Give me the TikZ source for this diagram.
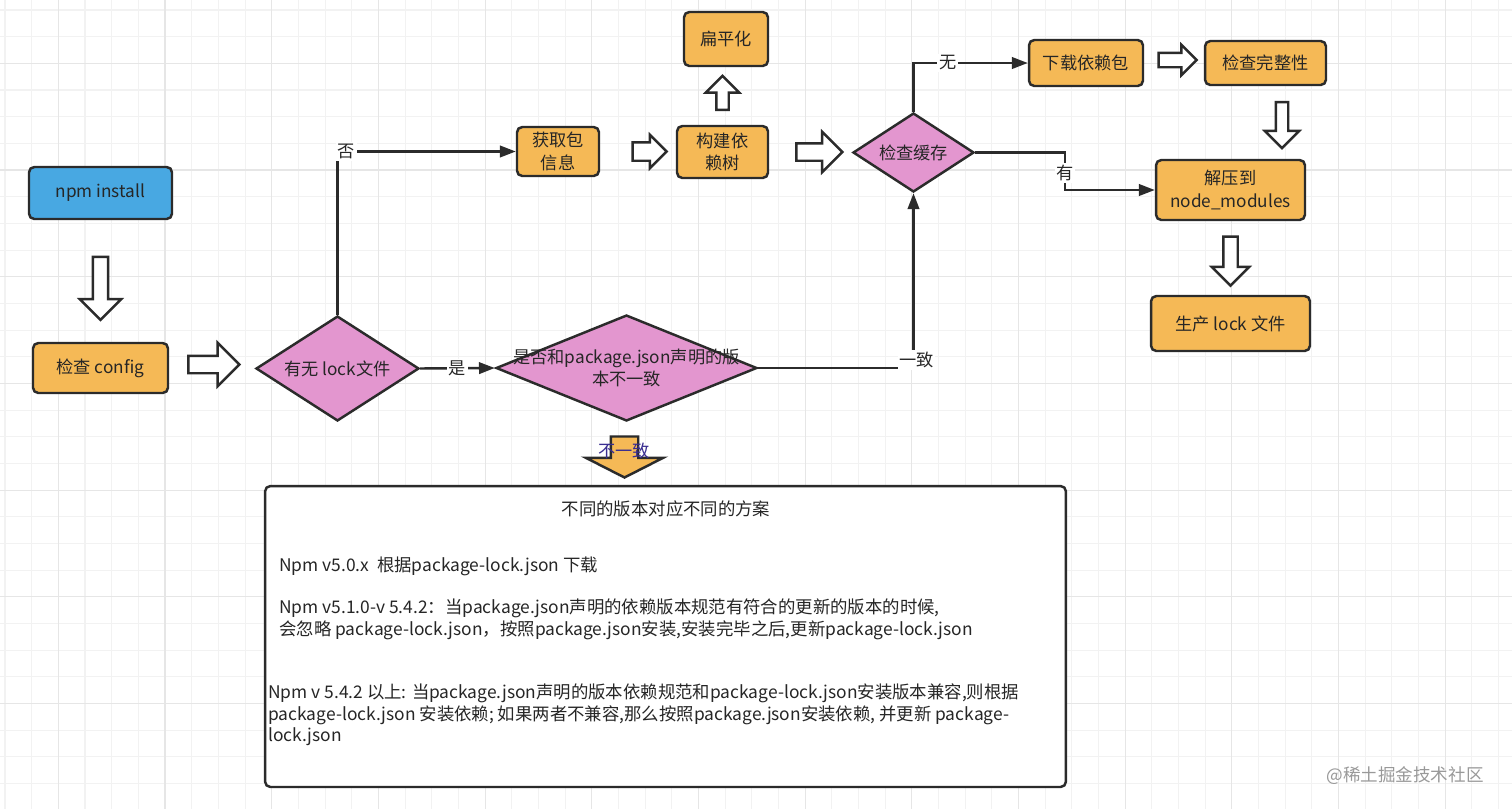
\documentclass[tikz,border=0pt]{standalone}
\usepackage{fontspec}
\setmainfont{Noto Sans CJK SC}
\usepackage{xcolor}
\usetikzlibrary{shapes, shapes.geometric, shapes.arrows, arrows.meta, positioning, calc}

\definecolor{boxorange}{HTML}{F5B956}
\definecolor{boxblue}{HTML}{48A8E2}
\definecolor{boxpink}{HTML}{E396CF}
\definecolor{edgec}{HTML}{2B2B2B}
\definecolor{gridminor}{HTML}{F2F2F2}
\definecolor{gridmajor}{HTML}{E6E6E6}
\definecolor{nolabelc}{HTML}{3A2E91}
\newcommand{\boxfont}{\fontsize{9.8}{13}\selectfont}
\newcommand{\planfont}{\fontsize{9.9}{12.2}\selectfont}

\tikzset{
  stepbox/.style={draw=edgec, line width=1.4pt, rounded corners=3pt, fill=boxorange,
    text=black!85, align=center, inner sep=0pt, font=\boxfont},
  decide/.style={diamond, draw=edgec, line width=1.4pt, fill=boxpink, inner sep=0pt,
    aspect=1.55, text=black!85, font=\boxfont},
  blockarrow/.style={single arrow, draw=edgec, line width=1.4pt, fill=white, inner xsep=0pt,
    minimum width=0pt, single arrow tip angle=90},
  flow/.style={draw=edgec, line width=1.4pt, -{Triangle[length=9pt, width=6.5pt]}},
  tag/.style={fill=white, inner sep=1pt, text=black!85, font=\boxfont},
  plaintext/.style={inner sep=0pt, text=black!85, align=left, font=\planfont},
  gridline/.style={gridminor, line width=0.6pt}
}

\begin{document}
\begin{tikzpicture}[x=0.02cm, y=-0.02cm]
  \useasboundingbox (0,0) rectangle (1512,809);
  \fill[white] (0,0) rectangle (1512,809);
  \foreach \i in {0,...,56} \draw[gridline] ({5+26.67*\i},0) -- ({5+26.67*\i},809);
  \foreach \i in {0,...,30} \draw[gridline] (0,{10+26.67*\i}) -- (1512,{10+26.67*\i});
  \foreach \i in {2,6,...,54} \draw[gridline, gridmajor] ({5+26.67*\i},0) -- ({5+26.67*\i},809);
  \foreach \i in {2,6,...,30} \draw[gridline, gridmajor] (0,{10+26.67*\i}) -- (1512,{10+26.67*\i});

  \node[stepbox, fill=boxblue, minimum width=2.86cm, minimum height=1.04cm] (npm) at (100.5,193) {npm install};
  \node[blockarrow, rotate=-90, minimum height=1.26cm, inner ysep=0.13cm, single arrow head extend=0.26cm] (a1) at (100.5,284.5) {};
  \node[stepbox, minimum width=2.7cm, minimum height=1cm] (cfg) at (100.5,368) {检查 config};
  \node[blockarrow, minimum height=1.02cm, inner ysep=0.15cm, single arrow head extend=0.26cm] (a2) at (209.5,364.5) {};
  \node[decide, minimum width=3.26cm, minimum height=2.1cm] (lock) at (337.5,368.5) {有无 lock文件};
  \node[decide, aspect=2.46, minimum width=5.22cm, minimum height=2.12cm,
    label={[align=center, text=black!85, font=\boxfont]center:是否和package.json声明的版\\本不一致}] (ver) at (626.5,368) {};
  \node[blockarrow, fill=boxorange, rotate=-90, single arrow tip angle=126, minimum height=0.82cm,
    inner ysep=0.25cm, single arrow head extend=0.5cm] (a9) at (624.5,453.5) {};
  \node[text=nolabelc, inner sep=0pt, font=\boxfont] (nolabel) at (624,451) {不一致};

  \node[stepbox, minimum width=1.64cm, minimum height=0.98cm] (info) at (558,151.5) {获取包\\信息};
  \node[blockarrow, minimum height=0.68cm, inner ysep=0.16cm, single arrow head extend=0.15cm] (a3) at (645,151.5) {};
  \node[stepbox, minimum width=1.82cm, minimum height=1.04cm] (tree) at (722.5,152) {构建依\\赖树};
  \node[blockarrow, rotate=90, minimum height=0.68cm, inner ysep=0.1cm, single arrow head extend=0.21cm] (a4) at (722.5,96) {};
  \node[stepbox, minimum width=1.68cm, minimum height=1.08cm] (flat) at (726,39) {扁平化};
  \node[blockarrow, minimum height=0.92cm, inner ysep=0.15cm, single arrow head extend=0.23cm] (a5) at (815,152) {};
  \node[decide, aspect=1.53, minimum width=2.42cm, minimum height=1.58cm] (cache) at (913.5,152.5) {检查缓存};
  \node[stepbox, minimum width=2.28cm, minimum height=0.92cm] (fetch) at (1086,63) {下载依赖包};
  \node[blockarrow, minimum height=0.76cm, inner ysep=0.12cm, single arrow head extend=0.16cm] (a6) at (1174,60) {};
  \node[stepbox, minimum width=2.42cm, minimum height=0.88cm] (check) at (1265.5,63) {检查完整性};
  \node[blockarrow, rotate=-90, minimum height=0.92cm, inner ysep=0.1cm, single arrow head extend=0.22cm] (a7) at (1282,122) {};
  \node[stepbox, minimum width=2.98cm, minimum height=1.2cm] (unzip) at (1230.5,190) {解压到\\node\_modules};
  \node[blockarrow, rotate=-90, minimum height=0.98cm, inner ysep=0.12cm, single arrow head extend=0.23cm] (a8) at (1230.5,257.5) {};
  \node[stepbox, minimum width=3.18cm, minimum height=1.1cm] (lockgen) at (1230.5,323.5) {生产 lock 文件};

  \draw[flow] (lock.north) |- node[tag, pos=0.525] {否} (info.west);
  \draw[flow] (lock.east) -- node[tag] {是} (ver.west);
  \draw[flow] (ver.east) -| node[tag, pos=0.5, xshift=0.06cm, yshift=0.16cm] {一致} (cache.south);
  \draw[flow] (cache.north) |- node[tag, pos=0.65] {无} (fetch.west);
  \coordinate (yes) at (1065,173);
  \draw[flow] (cache.east) -| (yes) |- (unzip.west);
  \node[tag] (yeslabel) at (yes) {有};

  \node[draw=edgec, line width=1.4pt, rounded corners=3pt, fill=white, minimum width=16.02cm,
    minimum height=6.02cm] (plan) at (665.5,636.5) {};
  \node[plaintext] (title) at (666,509) {不同的版本对应不同的方案};
  \node[plaintext, anchor=west] (v50) at (279,566) {Npm v5.0.x\ \ 根据package-lock.json 下载};
  \node[plaintext, anchor=west] (v51) at (279,619.5)
    {Npm v5.1.0-v 5.4.2：当package.json声明的依赖版本规范有符合的更新的版本的时候,\\
     会忽略 package-lock.json，按照package.json安装,安装完毕之后,更新package-lock.json};
  \node[plaintext, anchor=west] (v54) at (268,715)
    {Npm v 5.4.2 以上: 当package.json声明的版本依赖规范和package-lock.json安装版本兼容,则根据\\
     package-lock.json 安装依赖; 如果两者不兼容,那么按照package.json安装依赖, 并更新 package-\\
     lock.json};

  \node[text=black!40, inner sep=0pt, font=\fontsize{10}{12}\selectfont] (mark) at (1405,776) {@稀土掘金技术社区};
\end{tikzpicture}
\end{document}
